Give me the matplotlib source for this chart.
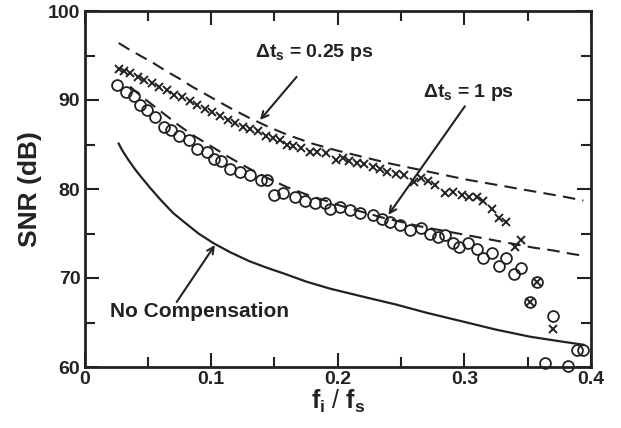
import numpy as np
import matplotlib.pyplot as plt
from matplotlib.ticker import MultipleLocator, FixedLocator, FixedFormatter

plt.rcParams['font.family'] = ['Liberation Sans', 'DejaVu Sans']
plt.rcParams['font.weight'] = 'bold'
plt.rcParams['mathtext.fontset'] = 'custom'
plt.rcParams['mathtext.rm'] = 'Liberation Sans:bold'
plt.rcParams['mathtext.it'] = 'Liberation Sans:bold'
plt.rcParams['mathtext.bf'] = 'Liberation Sans:bold'
plt.rcParams['mathtext.sf'] = 'Liberation Sans:bold'

# dashed theory curve, dt_s = 0.25 ps
dash025_x = [0.027, 0.035, 0.045, 0.055, 0.065, 0.075, 0.085, 0.095, 0.105, 0.115, 0.13, 0.145,
             0.16, 0.18, 0.20, 0.22, 0.24, 0.26, 0.28, 0.30, 0.32, 0.34, 0.36, 0.38, 0.394]
dash025_y = [96.4, 95.7, 94.9, 94.1, 93.2, 92.4, 91.5, 90.7, 89.9, 89.1, 88.0, 87.0,
             86.1, 85.1, 84.3, 83.6, 82.9, 82.3, 81.7, 81.1, 80.6, 80.1, 79.6, 79.1, 78.7]

# dashed theory curve, dt_s = 1 ps
dash1_x = [0.036, 0.045, 0.055, 0.065, 0.075, 0.085, 0.10, 0.115, 0.13, 0.145, 0.16, 0.175,
           0.19, 0.205, 0.22, 0.235, 0.25, 0.265, 0.28, 0.295, 0.31, 0.325, 0.34, 0.355,
           0.37, 0.385, 0.394]
dash1_y = [91.5, 90.4, 89.3, 88.2, 87.1, 86.1, 84.8, 83.5, 82.3, 81.2, 80.2, 79.4,
           78.7, 78.0, 77.4, 76.8, 76.3, 75.8, 75.4, 75.0, 74.6, 74.2, 73.8, 73.4,
           73.1, 72.7, 72.5]

# no compensation
nocomp_x = [0.027, 0.030, 0.035, 0.040, 0.045, 0.052, 0.060, 0.070, 0.0786, 0.09, 0.102, 0.115,
            0.13, 0.145, 0.1575, 0.175, 0.194, 0.22, 0.2465, 0.27, 0.299, 0.325, 0.352, 0.375, 0.394]
nocomp_y = [85.1, 84.3, 83.2, 82.2, 81.3, 80.1, 78.8, 77.3, 76.3, 75.0, 73.9, 72.9,
            71.9, 71.1, 70.5, 69.6, 68.8, 67.9, 67.0, 66.1, 65.1, 64.2, 63.4, 62.9, 62.5]

# measured, dt_s = 0.25 ps (crosses)
cross_x = [0.027, 0.031, 0.036, 0.042, 0.047, 0.053, 0.059, 0.065, 0.071, 0.077, 0.083, 0.089,
           0.095, 0.101, 0.107, 0.113, 0.119, 0.125, 0.131, 0.137, 0.143, 0.149, 0.154, 0.160,
           0.165, 0.171, 0.178, 0.184, 0.191, 0.199, 0.204, 0.209, 0.215, 0.221, 0.228, 0.233,
           0.239, 0.246, 0.252, 0.260, 0.266, 0.271, 0.277, 0.285, 0.291, 0.298, 0.304, 0.310,
           0.315, 0.3215, 0.327, 0.333, 0.340, 0.345, 0.352, 0.357, 0.370]
cross_y = [93.5, 93.3, 93.0, 92.6, 92.2, 91.9, 91.5, 91.1, 90.6, 90.3, 89.9, 89.4,
           89.0, 88.6, 88.2, 87.8, 87.4, 87.0, 86.7, 86.5, 86.0, 85.7, 85.5, 85.0,
           84.8, 84.6, 84.2, 84.2, 84.0, 83.3, 83.5, 83.1, 82.9, 82.8, 82.5, 82.3,
           81.9, 81.7, 81.6, 80.8, 81.2, 80.9, 80.4, 79.5, 79.7, 79.3, 79.1, 79.1,
           78.6, 77.8, 76.7, 76.3, 73.5, 74.3, 67.3, 69.6, 64.3]

# measured, dt_s = 1 ps (circles)
circ_x = [0.026, 0.0325, 0.039, 0.044, 0.0496, 0.056, 0.063, 0.068, 0.0746, 0.0825, 0.089, 0.097,
          0.102, 0.108, 0.115, 0.123, 0.131, 0.139, 0.144, 0.150, 0.157, 0.166, 0.174, 0.182,
          0.190, 0.194, 0.202, 0.210, 0.2175, 0.228, 0.235, 0.241, 0.249, 0.257, 0.266, 0.273,
          0.279, 0.285, 0.291, 0.296, 0.303, 0.310, 0.315, 0.3215, 0.327, 0.333, 0.339, 0.345,
          0.352, 0.357, 0.3636, 0.370, 0.382, 0.3886, 0.394]
circ_y = [91.7, 90.9, 90.4, 89.4, 88.9, 88.1, 87.0, 86.6, 85.9, 85.5, 84.5, 84.2,
          83.4, 83.2, 82.2, 81.9, 81.6, 81.0, 81.0, 79.3, 79.5, 79.1, 78.6, 78.4,
          78.4, 77.8, 78.0, 77.6, 77.3, 77.1, 76.6, 76.3, 76.0, 75.4, 75.6, 75.0,
          74.6, 74.8, 73.9, 73.5, 73.9, 73.3, 72.3, 72.8, 71.4, 72.2, 70.4, 71.1,
          67.3, 69.6, 60.4, 65.7, 60.1, 61.9, 61.9]

xticks = [0, 0.1, 0.2, 0.3, 0.4]
xticklabels = ['0', '0.1', '0.2', '0.3', '0.4']
yticks = [60, 70, 80, 90, 100]
yticklabels = ['60', '70', '80', '90', '100']

fig = plt.figure(figsize=(6.21, 4.28), dpi=100)
ax = fig.add_axes([84.5 / 621, 1 - 367 / 428, (591 - 84.5) / 621, (367 - 11) / 428])

ax.plot(dash025_x, dash025_y, color='#222', lw=1.5, dashes=(6, 3.5))
ax.plot(dash1_x, dash1_y, color='#222', lw=1.5, dashes=(6, 3.5))
ax.plot(nocomp_x, nocomp_y, color='#222', lw=1.6)
ax.plot(circ_x, circ_y, 'o', ms=7.8, mfc='none', mec='#222', mew=1.3, clip_on=False)
ax.plot(cross_x, cross_y, 'x', ms=6, mec='#222', mew=1.4, clip_on=False)

ax.set_xlim(0, 0.4)
ax.set_ylim(60, 100)
ax.xaxis.set_major_locator(FixedLocator(xticks))
ax.xaxis.set_major_formatter(FixedFormatter(xticklabels))
ax.xaxis.set_minor_locator(MultipleLocator(0.05))
ax.yaxis.set_major_locator(FixedLocator(yticks))
ax.yaxis.set_major_formatter(FixedFormatter(yticklabels))
ax.yaxis.set_minor_locator(MultipleLocator(5))
ax.tick_params(which='both', direction='in', top=True, right=True, width=1.5, color='#222',
               labelsize=14, labelcolor='#222')
ax.tick_params(which='major', length=10, pad=3)
ax.tick_params(which='minor', length=7)
for s in ax.spines.values():
    s.set_linewidth(2)
    s.set_color('#222')

ax.set_xlabel(r'$f_i$ / $f_s$', fontsize=18, color='#222', labelpad=0)
ax.set_ylabel('SNR (dB)', fontsize=19, fontweight='bold', color='#222', labelpad=4)

arrow = dict(arrowstyle='->', lw=1.5, color='#222', mutation_scale=12, shrinkA=0, shrinkB=0)
ax.annotate('', xy=(0.1386, 87.75), xytext=(0.1675, 92.6), arrowprops=arrow)
ax.text(0.1346, 95.3, r'$\Delta t_s$ = 0.25 ps', fontsize=14, color='#222', va='center')
ax.annotate('', xy=(0.24, 77.1), xytext=(0.3004, 89.3), arrowprops=arrow)
ax.text(0.267, 90.8, r'$\Delta t_s$ = 1 ps', fontsize=14, color='#222', va='center')
ax.annotate('', xy=(0.103, 73.7), xytext=(0.0728, 67.3), arrowprops=arrow)
ax.text(0.020, 66.2, 'No Compensation', fontsize=15, fontweight='bold', color='#222', va='center')

fig.savefig('out.png', dpi=100)
